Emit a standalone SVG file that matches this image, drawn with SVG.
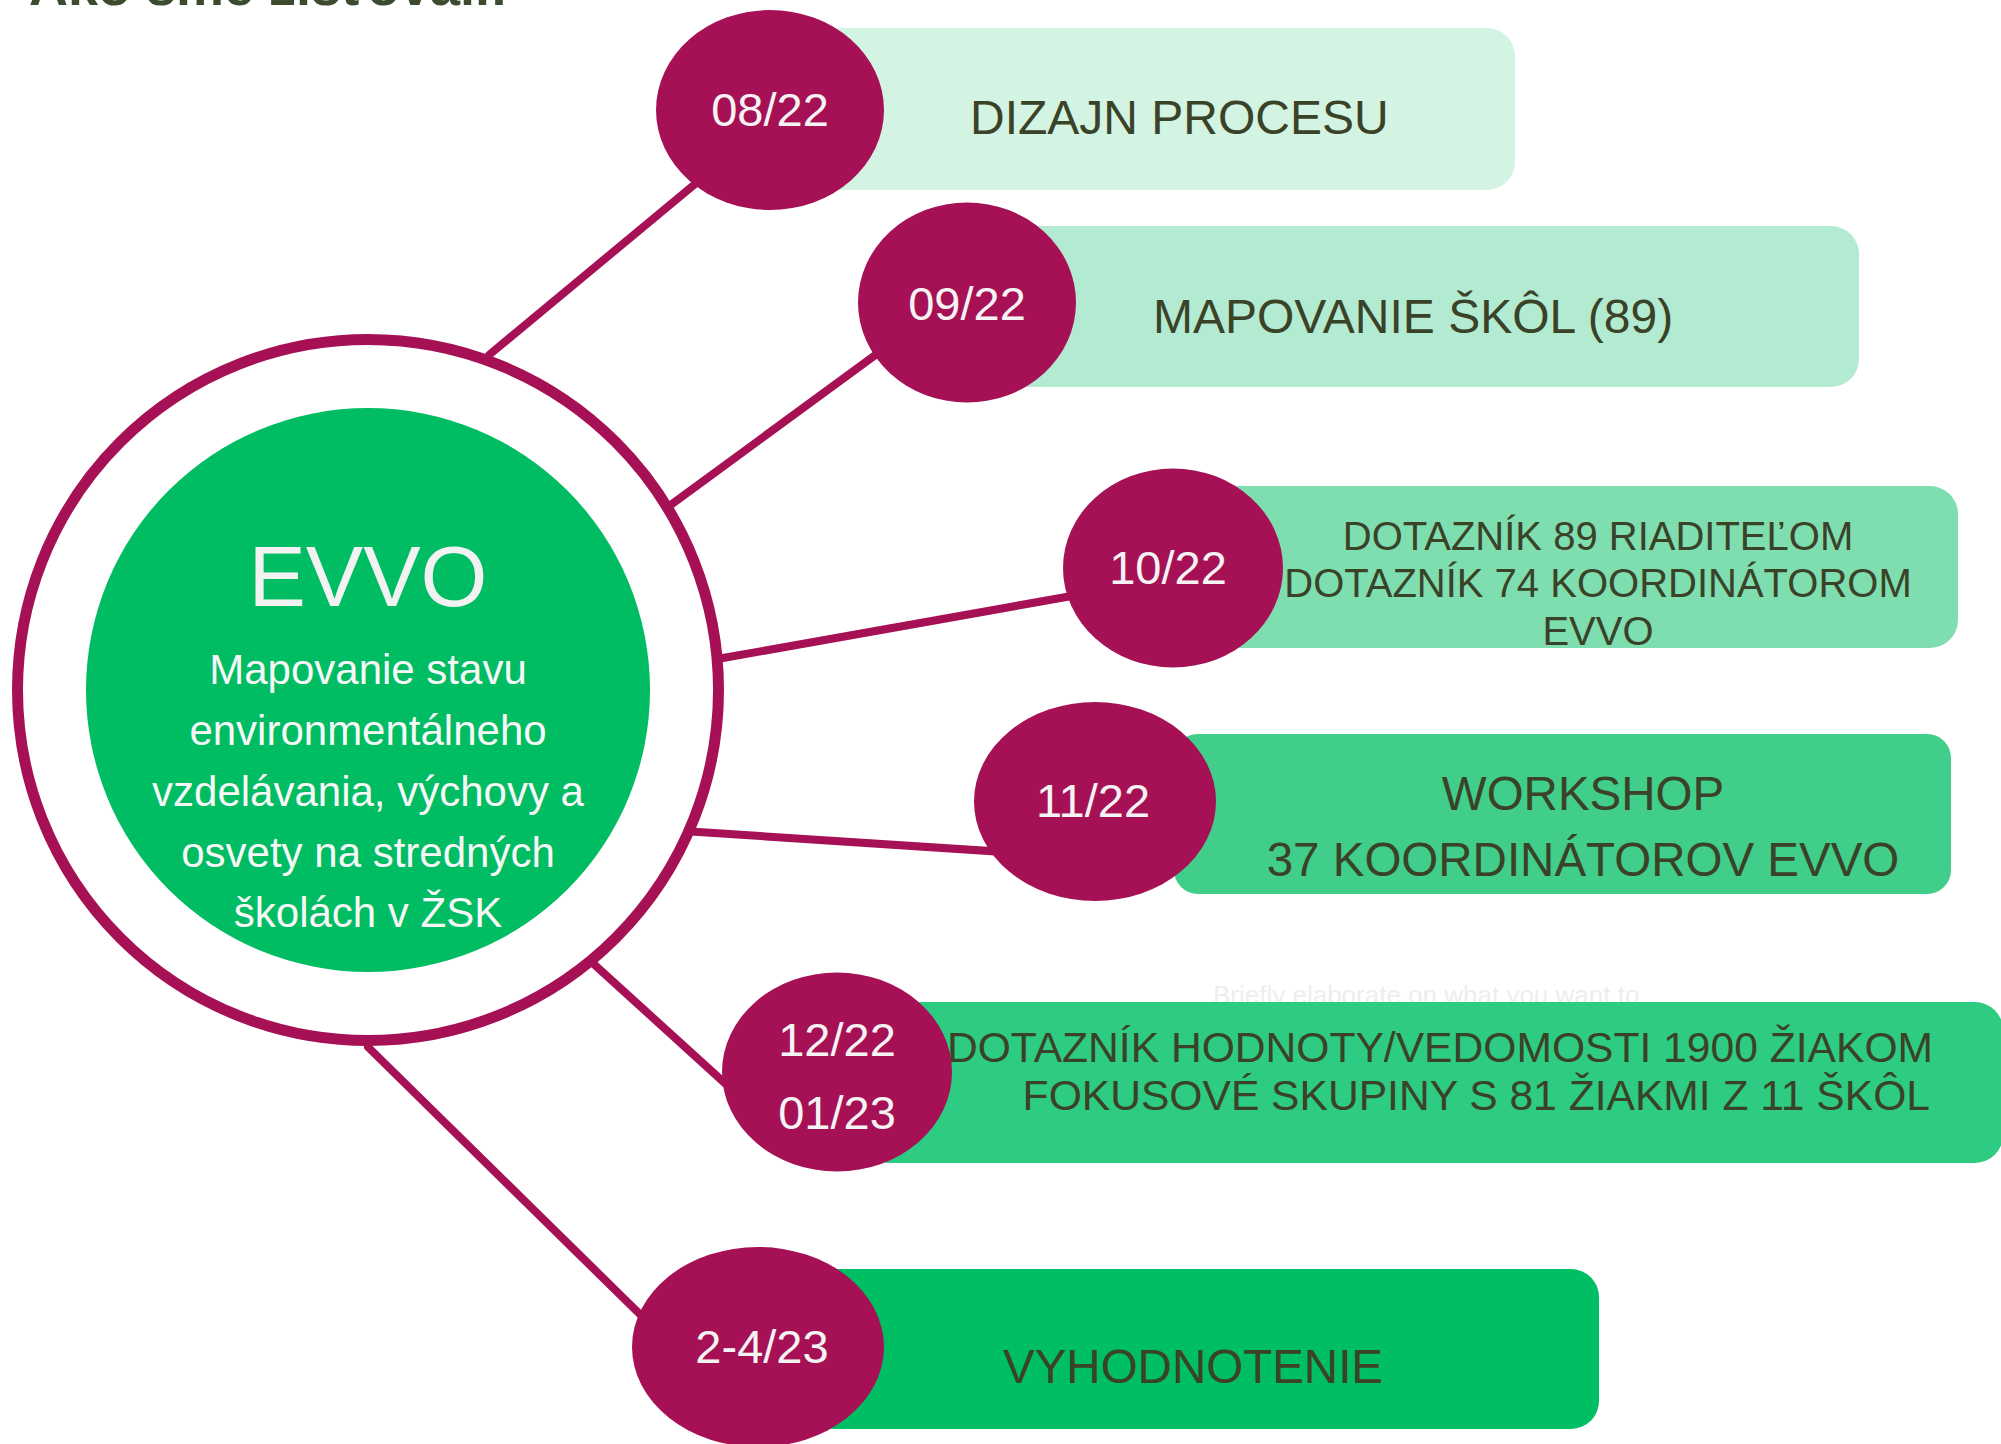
<svg xmlns="http://www.w3.org/2000/svg" width="2001" height="1444" viewBox="0 0 2001 1444">
<style>
text{font-family:"Liberation Sans",Arial,sans-serif}
.date{fill:#A61156}
.dl{fill:#F5F2F4;font-size:47px;text-anchor:middle}
.bt{fill:#3A4228}
.conn{stroke:#A61156;stroke-width:8;stroke-linecap:round;fill:none}
</style>
<rect width="2001" height="1444" fill="#FFFFFF"/>
<text x="29" y="5" font-size="54" font-weight="bold" fill="#3C4A2E">Ako sme zisťovali:</text>
<text x="1213" y="1004" font-size="26" fill="#EEEEEE">Briefly elaborate on what you want to</text>

<g id="box1"><rect x="810" y="28" width="705" height="162" rx="28" fill="#D3F4E3"/>
<text class="bt" x="970" y="134" font-size="48">DIZAJN PROCESU</text></g>
<g id="box2"><rect x="1000" y="226" width="859" height="161" rx="28" fill="#B2EBD1"/>
<text class="bt" x="1153" y="333" font-size="48">MAPOVANIE ŠKÔL (89)</text></g>
<g id="box3"><rect x="1210" y="486" width="748" height="162" rx="28" fill="#7EDEB0"/>
<text class="bt" x="1598" y="550" font-size="40" text-anchor="middle">DOTAZNÍK 89 RIADITEĽOM</text>
<text class="bt" x="1598" y="597" font-size="40" text-anchor="middle">DOTAZNÍK 74 KOORDINÁTOROM</text>
<text class="bt" x="1598" y="645" font-size="40" text-anchor="middle">EVVO</text></g>
<g id="box4"><rect x="1174" y="734" width="777" height="160" rx="24" fill="#40CE8A"/>
<text class="bt" x="1583" y="810" font-size="47.5" text-anchor="middle">WORKSHOP</text>
<text class="bt" x="1583" y="876" font-size="47.5" text-anchor="middle">37 KOORDINÁTOROV EVVO</text></g>
<g id="box5"><rect x="860" y="1002" width="1143" height="161" rx="28" fill="#2ECB82"/>
<text class="bt" x="1933" y="1062" font-size="42.6" text-anchor="end">DOTAZNÍK HODNOTY/VEDOMOSTI 1900 ŽIAKOM</text>
<text class="bt" x="1930" y="1110" font-size="42.6" text-anchor="end">FOKUSOVÉ SKUPINY S 81 ŽIAKMI Z 11 ŠKÔL</text></g>
<g id="box6"><rect x="805" y="1269" width="794" height="160" rx="28" fill="#00BE64"/>
<text class="bt" x="1003" y="1383" font-size="47.5">VYHODNOTENIE</text></g>

<g id="connectors">
<line class="conn" x1="489" y1="355" x2="730" y2="155"/>
<line class="conn" x1="672" y1="504" x2="900" y2="337"/>
<line class="conn" x1="723" y1="658" x2="1100" y2="591"/>
<line class="conn" x1="683" y1="831" x2="1020" y2="853"/>
<line class="conn" x1="586" y1="957" x2="750" y2="1106"/>
<line class="conn" x1="368" y1="1047" x2="660" y2="1334"/>
</g>

<g id="evvo">
<circle cx="368" cy="690" r="350.5" fill="#FFFFFF" stroke="#A61156" stroke-width="11"/>
<circle cx="368" cy="690" r="282" fill="#00BD63"/>
<text x="368" y="606" font-size="86" fill="#F2F2F2" text-anchor="middle">EVVO</text>
<g font-size="42" fill="#F7F7F7" text-anchor="middle">
<text x="368" y="684">Mapovanie stavu</text>
<text x="368" y="745">environmentálneho</text>
<text x="368" y="806">vzdelávania, výchovy a</text>
<text x="368" y="867">osvety na stredných</text>
<text x="368" y="927">školách v ŽSK</text>
</g>
</g>

<g id="d1"><ellipse class="date" cx="770" cy="110" rx="114" ry="100"/><text class="dl" x="770" y="126">08/22</text></g>
<g id="d2"><ellipse class="date" cx="967" cy="302.5" rx="109" ry="100"/><text class="dl" x="967" y="320">09/22</text></g>
<g id="d3"><ellipse class="date" cx="1173" cy="568" rx="110" ry="99.5"/><text class="dl" x="1168" y="584">10/22</text></g>
<g id="d4"><ellipse class="date" cx="1095" cy="801.5" rx="121" ry="99.5"/><text class="dl" x="1093" y="817">11/22</text></g>
<g id="d5"><ellipse class="date" cx="837" cy="1072" rx="115" ry="99.5"/><text class="dl" x="837" y="1056" font-size="46">12/22</text><text class="dl" x="837" y="1129" font-size="46">01/23</text></g>
<g id="d6"><ellipse class="date" cx="758" cy="1347" rx="126" ry="100"/><text class="dl" x="762" y="1363">2-4/23</text></g>
</svg>
